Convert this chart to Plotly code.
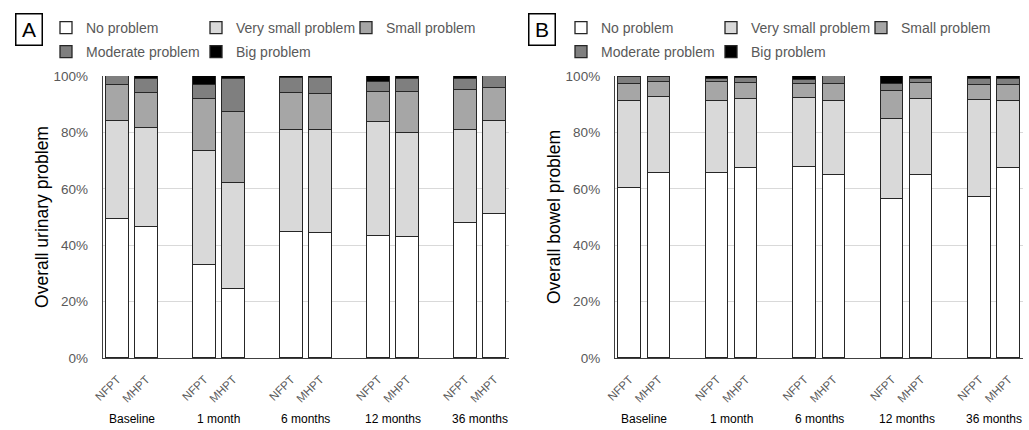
import plotly.graph_objects as go

timepoints = ["Baseline", "1 month", "6 months", "12 months", "36 months"]
arms = ["NFPT", "MHPT"]
categories = ["No problem", "Very small problem", "Small problem", "Moderate problem", "Big problem"]
colors = ["#ffffff", "#d9d9d9", "#a6a6a6", "#7f7f7f", "#000000"]

# Panel A: overall urinary problem (%), bars ordered Baseline NFPT, Baseline MHPT, 1 month NFPT, ...
urinary_no = [49.3, 46.6, 32.9, 24.5, 44.6, 44.2, 43.2, 42.9, 47.8, 51.0]
urinary_very_small = [34.8, 34.9, 40.6, 37.5, 36.3, 36.7, 40.4, 36.9, 33.0, 33.2]
urinary_small = [12.6, 12.6, 18.5, 25.2, 12.9, 12.7, 10.6, 14.4, 14.4, 11.7]
urinary_moderate = [3.3, 4.7, 4.7, 11.6, 5.4, 5.6, 3.6, 4.9, 3.9, 4.1]
urinary_big = [0.0, 1.2, 3.3, 1.2, 0.8, 0.8, 2.2, 0.9, 0.9, 0.0]

# Panel B: overall bowel problem (%)
bowel_no = [60.3, 65.5, 65.6, 67.5, 67.6, 64.8, 56.3, 64.9, 57.2, 67.5]
bowel_very_small = [30.7, 27.1, 25.7, 24.5, 24.7, 26.2, 28.3, 26.9, 34.3, 23.8]
bowel_small = [6.2, 5.2, 6.5, 5.4, 4.9, 6.1, 10.0, 5.6, 5.2, 5.6]
bowel_moderate = [2.4, 1.7, 1.2, 1.8, 1.4, 2.9, 2.7, 1.6, 2.1, 1.9]
bowel_big = [0.4, 0.5, 1.0, 0.8, 1.4, 0.0, 2.7, 1.0, 1.2, 1.2]

urinary = [urinary_no, urinary_very_small, urinary_small, urinary_moderate, urinary_big]
bowel = [bowel_no, bowel_very_small, bowel_small, bowel_moderate, bowel_big]

# slot index: each timepoint has two bars followed by an empty slot
xpos = [i * 3 + j for i in range(len(timepoints)) for j in range(len(arms))]
xtext = [a for _ in timepoints for a in arms]

fig = go.Figure()

for panel, (data, xa, ya, legs) in enumerate([
    (urinary, "x", "y", ["legend", "legend2"]),
    (bowel, "x2", "y2", ["legend3", "legend4"]),
]):
    for k, (cat, col, vals) in enumerate(zip(categories, colors, data)):
        fig.add_trace(go.Bar(
            x=xpos, y=vals, name=cat, xaxis=xa, yaxis=ya,
            marker=dict(color=col, line=dict(color="#262626", width=1.3)),
            width=0.77,
            legend=legs[0] if k < 3 else legs[1],
            showlegend=True,
        ))

ytick_font = dict(family="Liberation Sans, Arial, sans-serif", size=13.5, color="#595959")
xtick_font = dict(family="Liberation Sans, Arial, sans-serif", size=11.5, color="#595959")

xcommon = dict(
    range=[-0.5, 13.5], tickvals=xpos, ticktext=xtext, tickangle=-45,
    showline=True, linecolor="#404040", linewidth=1.3, ticks="", showgrid=False,
    zeroline=False, tickfont=xtick_font, ticklabelstandoff=9, fixedrange=True,
    automargin=False,
)
ycommon = dict(
    range=[0, 100], dtick=20, ticksuffix="%", showline=True, linecolor="#404040",
    linewidth=1.3, showgrid=True, gridcolor="#d9d9d9", gridwidth=1, zeroline=False,
    tickfont=ytick_font, ticklabelstandoff=11, ticks="", fixedrange=True,
    automargin=False,
)

fig.update_layout(
    xaxis=dict(domain=[102.8 / 1029, 508.8 / 1029], anchor="y", **xcommon),
    xaxis2=dict(domain=[615 / 1029, 1023.3 / 1029], anchor="y2", **xcommon),
    yaxis=dict(domain=[0, 1], anchor="x",
               title=dict(text="Overall urinary problem", font=dict(size=17.5, color="#000000"), standoff=0),
               **ycommon),
    yaxis2=dict(domain=[0, 1], anchor="x2",
                title=dict(text="Overall bowel problem", font=dict(size=17.5, color="#000000"), standoff=0),
                **ycommon),
    barmode="stack",
    bargap=0,
    width=1029, height=430,
    margin=dict(l=0, r=0, t=76, b=71.5, autoexpand=False),
    paper_bgcolor="white", plot_bgcolor="white",
    font=dict(family="Liberation Sans, Arial, sans-serif", color="#595959"),
)

leg_font = dict(family="Liberation Sans, Arial, sans-serif", size=14, color="#595959")
leg_common = dict(orientation="h", xref="container", yref="container", xanchor="left",
                  yanchor="middle", font=leg_font, entrywidth=105, entrywidthmode="pixels",
                  bgcolor="rgba(0,0,0,0)", borderwidth=0, itemclick=False, itemdoubleclick=False,
                  tracegroupgap=0, traceorder="normal")
fig.update_layout(
    legend=dict(x=46 / 1029, y=1 - 28 / 430, **leg_common),
    legend2=dict(x=46 / 1029, y=1 - 52 / 430, **leg_common),
    legend3=dict(x=561 / 1029, y=1 - 28 / 430, **leg_common),
    legend4=dict(x=561 / 1029, y=1 - 52 / 430, **leg_common),
)

# panel letters
for letter, cx in [("A", 29), ("B", 541.5)]:
    fig.add_annotation(
        text=letter, xref="paper", yref="paper", x=cx / 1029, y=(358.5 - 29.5) / 282.5,
        xanchor="center", yanchor="middle", showarrow=False,
        font=dict(family="Liberation Sans, Arial, sans-serif", size=21, color="#000000"),
        bordercolor="#000000", borderwidth=1.5, borderpad=0, width=25, height=30,
    )

# timepoint group labels
for xa in ["x", "x2"]:
    for i, t in enumerate(timepoints):
        fig.add_annotation(
            text=t, xref=xa, yref="paper", x=i * 3 + 0.5, y=(358.5 - 420) / 282.5,
            xanchor="center", yanchor="middle", showarrow=False,
            font=dict(family="Liberation Sans, Arial, sans-serif", size=12, color="#000000"),
        )

fig.write_html(
    "out.html",
    config={"displayModeBar": False},
    post_script="document.body.style.margin='0';document.body.style.overflow='hidden';",
)
